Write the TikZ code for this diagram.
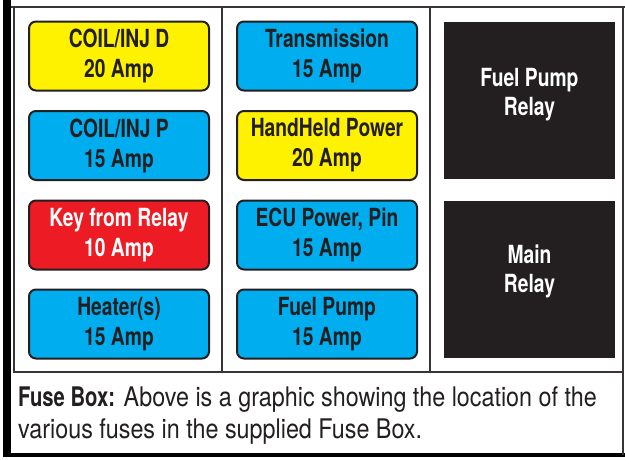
\documentclass[tikz,border=0pt]{standalone}
\usepackage{fontspec}
\setmainfont{TeX Gyre Heros}[FakeStretch=0.77]
\newfontfamily\capreg{TeX Gyre Heros}[FakeStretch=0.864]
\newfontfamily\capbold{TeX Gyre Heros Bold}[FakeStretch=0.75]
\definecolor{ink}{HTML}{231F20}
\definecolor{fyellow}{HTML}{FFF200}
\definecolor{fblue}{HTML}{00AEEF}
\definecolor{fred}{HTML}{ED1C24}
\begin{document}
\begin{tikzpicture}[x=1pt,y=-1pt,
  fuse/.style={draw=ink,line width=2pt,rounded corners=7pt,minimum width=180pt,minimum height=69pt,
    align=center,font=\fontsize{25}{30}\selectfont\bfseries,text=ink,inner sep=0pt},
  relay/.style={fill=ink,draw=none,minimum width=171pt,minimum height=157pt,inner sep=0pt},
  relaytext/.style={text=white,font=\fontsize{25}{29}\selectfont\bfseries,align=center,inner sep=0pt,anchor=base},
  frame/.style={draw=ink!90,line width=2pt},
  captext/.style={anchor=base west,text=ink,font=\fontsize{27}{33}\selectfont\capreg,inner sep=0pt}]
\useasboundingbox (0,0) rectangle (625,459);
\fill[white] (0,0) rectangle (625,459);
% outer frame
\fill[black] (3,0) rectangle (11,457);
\fill[black] (3,453) rectangle (625,457);
\draw[frame] (11,7) -- (625,7);
\draw[frame] (623,7) -- (623,455);
% grid
\draw[frame] (14,7) -- (14,372) -- (623,372);
\draw[frame] (222,7) -- (222,372);
\draw[frame] (430,7) -- (430,372);
% column 1
\node[fuse,fill=fyellow] (f1) at (119,56) {COIL/INJ D\\20 Amp};
\node[fuse,fill=fblue] (f2) at (119,145.5) {COIL/INJ P\\15 Amp};
\node[fuse,fill=fred,text=white] (f3) at (119,235) {Key from Relay\\10 Amp};
\node[fuse,fill=fblue] (f4) at (119,324) {Heater(s)\\15 Amp};
% column 2
\node[fuse,fill=fblue] (f5) at (327,56) {Transmission\\15 Amp};
\node[fuse,fill=fyellow] (f6) at (327,145.5) {HandHeld Power\\20 Amp};
\node[fuse,fill=fblue] (f7) at (327,235) {ECU Power, Pin\\15 Amp};
\node[fuse,fill=fblue] (f8) at (327,324) {Fuel Pump\\15 Amp};
% relays
\node[relay] (r1) at (529.5,100.5) {};
\node[relaytext] (r1a) at (529.5,86) {Fuel Pump};
\node[relaytext] (r1b) at (529.5,115) {Relay};
\node[relay] (r2) at (529.5,279) {};
\node[relaytext] (r2a) at (529.5,263) {Main};
\node[relaytext] (r2b) at (529.5,292) {Relay};
% caption
\node[captext] (c1) at (18,406) {{\capbold Fuse Box:} Above is a graphic showing the location of the};
\node[captext] (c2) at (18,438) {various fuses in the supplied Fuse Box.};
\end{tikzpicture}
\end{document}
